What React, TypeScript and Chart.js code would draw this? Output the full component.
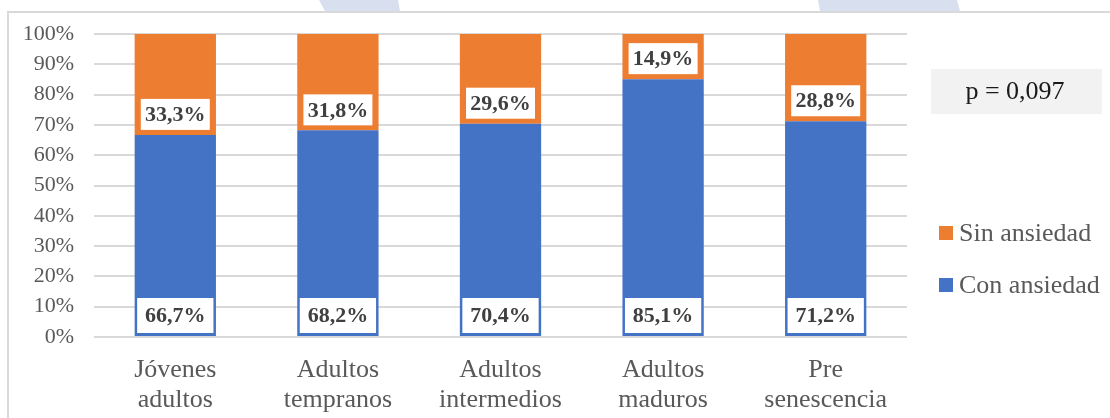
import React, { useEffect, useRef } from "react";
import { Chart, registerables } from "chart.js";

Chart.register(...registerables);

const categories: string[][] = [
  ["Jóvenes", "adultos"],
  ["Adultos", "tempranos"],
  ["Adultos", "intermedios"],
  ["Adultos", "maduros"],
  ["Pre", "senescencia"],
];
const conAnsiedad = [66.7, 68.2, 70.4, 85.1, 71.2];
const sinAnsiedad = [33.3, 31.8, 29.6, 14.9, 28.8];
const seriesNames = ["Con ansiedad", "Sin ansiedad"];
const seriesColors = ["#4472C4", "#ED7D31"];
const yTicks = [0, 10, 20, 30, 40, 50, 60, 70, 80, 90, 100];
const pValueText = "p = 0,097";

const SERIF = "'Liberation Serif', 'Times New Roman', serif";

const fmt = (v: number) => v.toFixed(1).replace(".", ",") + "%";

const framePlugin = {
  id: "frame",
  beforeDraw(chart: any) {
    const ctx = chart.ctx;
    ctx.save();
    ctx.fillStyle = "#ffffff";
    ctx.fillRect(0, 0, chart.width, chart.height);
    // faint watermark fragments above the frame
    ctx.fillStyle = "#D8E0EF";
    ctx.beginPath();
    ctx.moveTo(319, 0);
    ctx.lineTo(398, 0);
    ctx.lineTo(400, 11);
    ctx.lineTo(325, 11);
    ctx.closePath();
    ctx.fill();
    ctx.beginPath();
    ctx.moveTo(818, 0);
    ctx.lineTo(957, 0);
    ctx.lineTo(960, 11);
    ctx.lineTo(820, 11);
    ctx.closePath();
    ctx.fill();
    // frame
    ctx.strokeStyle = "#D9D9D9";
    ctx.lineWidth = 2;
    ctx.beginPath();
    ctx.moveTo(8, chart.height);
    ctx.lineTo(8, 12);
    ctx.lineTo(chart.width, 12);
    ctx.stroke();
    ctx.restore();
  },
};

const labelsPlugin = {
  id: "boxLabels",
  afterDatasetsDraw(chart: any) {
    const ctx = chart.ctx;
    ctx.save();
    ctx.font = `bold 22px ${SERIF}`;
    ctx.textAlign = "center";
    ctx.textBaseline = "middle";
    chart.data.datasets.forEach((ds: any, di: number) => {
      const meta = chart.getDatasetMeta(di);
      meta.data.forEach((bar: any, i: number) => {
        const p = bar.getProps(["x", "y", "base", "width"], true);
        let w: number, h: number, bottom: number;
        if (di === 0) {
          w = p.width - 5;
          h = 35;
          bottom = p.base - 3;
        } else {
          w = 69;
          h = 31;
          bottom = p.base - 5;
        }
        ctx.fillStyle = "#ffffff";
        ctx.fillRect(p.x - w / 2, bottom - h, w, h);
        ctx.fillStyle = "#404040";
        ctx.fillText(fmt(ds.data[i]), p.x, bottom - h / 2 + 1);
      });
    });
    ctx.restore();
  },
};

const sidePlugin = {
  id: "sideLegend",
  afterDraw(chart: any) {
    const ctx = chart.ctx;
    ctx.save();
    // p-value box
    ctx.fillStyle = "#F2F2F2";
    ctx.fillRect(931, 69, 171, 45);
    ctx.fillStyle = "#1a1a1a";
    ctx.font = `26px ${SERIF}`;
    ctx.textAlign = "center";
    ctx.textBaseline = "middle";
    ctx.fillText(pValueText, 1015, 92);
    // legend (reverse order)
    ctx.textAlign = "left";
    const items = chart.data.datasets.map((d: any) => ({ label: d.label, color: d.backgroundColor })).reverse();
    items.forEach((it: any, k: number) => {
      const cy = 233 + k * 52;
      ctx.fillStyle = it.color;
      ctx.fillRect(939, cy - 7, 14, 14);
      ctx.fillStyle = "#595959";
      ctx.fillText(it.label, 959, cy + 1);
    });
    ctx.restore();
  },
};

export default function App() {
  const ref = useRef<HTMLCanvasElement | null>(null);
  useEffect(() => {
    if (!ref.current) return;
    const chart = new Chart(ref.current, {
      type: "bar",
      data: {
        labels: categories,
        datasets: [
          {
            label: seriesNames[0],
            data: conAnsiedad,
            backgroundColor: seriesColors[0],
            categoryPercentage: 1,
            barPercentage: 0.5,
          },
          {
            label: seriesNames[1],
            data: sinAnsiedad,
            backgroundColor: seriesColors[1],
            categoryPercentage: 1,
            barPercentage: 0.5,
          },
        ],
      },
      options: {
        responsive: false,
        animation: false,
        events: [],
        layout: { padding: { top: 34, left: 0, right: 203, bottom: 0 } },
        plugins: {
          legend: { display: false },
          tooltip: { enabled: false },
        },
        scales: {
          x: {
            stacked: true,
            grid: { display: false, drawTicks: false },
            border: { display: false },
            ticks: {
              color: "#595959",
              font: { family: SERIF, size: 26, lineHeight: 1.15 },
              padding: 18,
              maxRotation: 0,
              autoSkip: false,
            },
            afterFit(scale: any) {
              scale.height = 81;
            },
          },
          y: {
            stacked: true,
            min: 0,
            max: 100,
            afterBuildTicks(scale: any) {
              scale.ticks = yTicks.map((v) => ({ value: v }));
            },
            grid: { color: "#D9D9D9", lineWidth: 2, drawTicks: false },
            border: { display: false },
            ticks: {
              color: "#595959",
              font: { family: SERIF, size: 22 },
              padding: 20,
              callback: (v: any) => v + "%",
            },
            afterFit(scale: any) {
              scale.width = 94;
            },
          },
        },
      },
      plugins: [framePlugin, labelsPlugin, sidePlugin],
    });
    return () => chart.destroy();
  }, []);
  return (
    <div style={{ position: "fixed", left: 0, top: 0, width: 1110, height: 418 }}>
      <canvas ref={ref} width={1110} height={418} style={{ width: 1110, height: 418 }} />
    </div>
  );
}
